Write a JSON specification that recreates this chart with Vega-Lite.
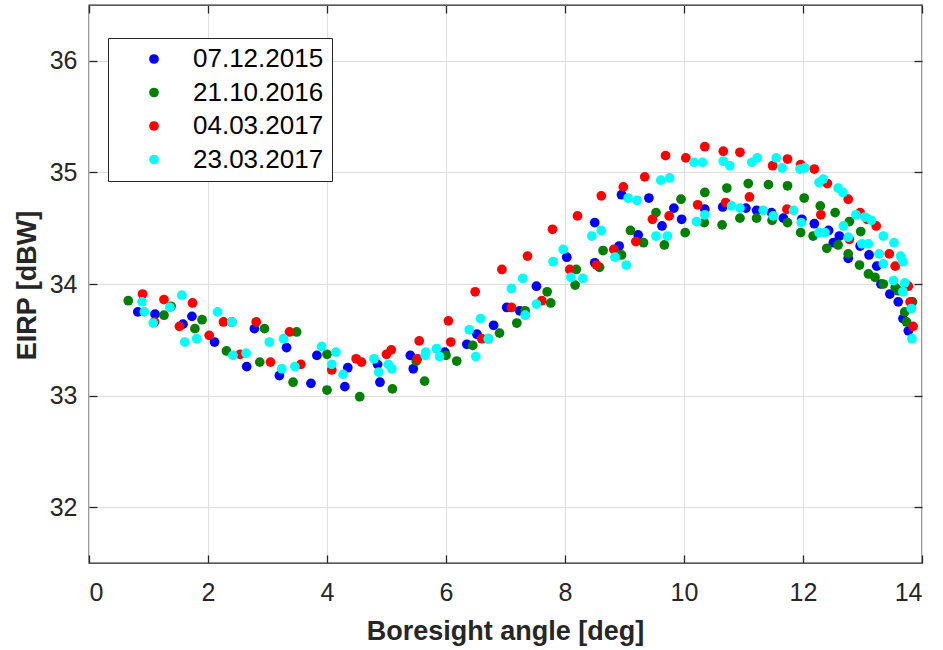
{
  "$schema": "https://vega.github.io/schema/vega-lite/v6.json",
  "width": 833,
  "height": 558,
  "autosize": {"type": "none"},
  "padding": {"left": 89, "top": 5, "right": 21, "bottom": 87},
  "background": "white",
  "config": {
    "font": "Liberation Sans",
    "view": {"stroke": "#262626", "strokeWidth": 1.3}
  },
  "datasets": {
    "pts": [
      {"d":"07.12.2015","a":0.82,"e":33.75},{"d":"07.12.2015","a":1.11,"e":33.73},{"d":"07.12.2015","a":1.73,"e":33.71},{"d":"07.12.2015","a":1.58,"e":33.64},
      {"d":"07.12.2015","a":2.11,"e":33.48},{"d":"07.12.2015","a":2.78,"e":33.60},{"d":"07.12.2015","a":3.32,"e":33.43},{"d":"07.12.2015","a":2.65,"e":33.26},
      {"d":"07.12.2015","a":3.20,"e":33.18},{"d":"07.12.2015","a":3.73,"e":33.11},{"d":"07.12.2015","a":3.83,"e":33.36},{"d":"07.12.2015","a":4.35,"e":33.25},
      {"d":"07.12.2015","a":4.30,"e":33.08},{"d":"07.12.2015","a":4.85,"e":33.28},{"d":"07.12.2015","a":4.89,"e":33.12},{"d":"07.12.2015","a":5.40,"e":33.36},
      {"d":"07.12.2015","a":5.45,"e":33.24},{"d":"07.12.2015","a":5.98,"e":33.39},{"d":"07.12.2015","a":6.35,"e":33.46},{"d":"07.12.2015","a":6.52,"e":33.55},
      {"d":"07.12.2015","a":6.80,"e":33.63},{"d":"07.12.2015","a":7.02,"e":33.79},{"d":"07.12.2015","a":7.24,"e":33.76},{"d":"07.12.2015","a":7.52,"e":33.98},
      {"d":"07.12.2015","a":8.03,"e":34.24},{"d":"07.12.2015","a":8.50,"e":34.55},{"d":"07.12.2015","a":8.50,"e":34.19},{"d":"07.12.2015","a":8.91,"e":34.34},
      {"d":"07.12.2015","a":9.23,"e":34.44},{"d":"07.12.2015","a":8.95,"e":34.80},{"d":"07.12.2015","a":9.41,"e":34.77},{"d":"07.12.2015","a":9.63,"e":34.52},
      {"d":"07.12.2015","a":9.83,"e":34.68},{"d":"07.12.2015","a":9.96,"e":34.58},{"d":"07.12.2015","a":10.35,"e":34.67},{"d":"07.12.2015","a":10.65,"e":34.69},
      {"d":"07.12.2015","a":11.04,"e":34.68},{"d":"07.12.2015","a":11.22,"e":34.66},{"d":"07.12.2015","a":11.47,"e":34.64},{"d":"07.12.2015","a":11.67,"e":34.59},
      {"d":"07.12.2015","a":11.98,"e":34.58},{"d":"07.12.2015","a":12.19,"e":34.54},{"d":"07.12.2015","a":12.43,"e":34.48},{"d":"07.12.2015","a":12.61,"e":34.43},
      {"d":"07.12.2015","a":12.51,"e":34.37},{"d":"07.12.2015","a":12.76,"e":34.23},{"d":"07.12.2015","a":12.96,"e":34.34},{"d":"07.12.2015","a":13.11,"e":34.26},
      {"d":"07.12.2015","a":13.24,"e":34.16},{"d":"07.12.2015","a":13.31,"e":34.00},{"d":"07.12.2015","a":13.46,"e":33.91},{"d":"07.12.2015","a":13.60,"e":33.84},
      {"d":"07.12.2015","a":13.68,"e":33.69},{"d":"07.12.2015","a":13.77,"e":33.58},

      {"d":"21.10.2016","a":0.66,"e":33.85},{"d":"21.10.2016","a":1.26,"e":33.72},{"d":"21.10.2016","a":1.38,"e":33.80},{"d":"21.10.2016","a":1.90,"e":33.68},
      {"d":"21.10.2016","a":1.78,"e":33.60},{"d":"21.10.2016","a":2.40,"e":33.66},{"d":"21.10.2016","a":2.31,"e":33.40},{"d":"21.10.2016","a":2.95,"e":33.60},
      {"d":"21.10.2016","a":2.87,"e":33.30},{"d":"21.10.2016","a":3.49,"e":33.57},{"d":"21.10.2016","a":3.43,"e":33.12},{"d":"21.10.2016","a":4.00,"e":33.37},
      {"d":"21.10.2016","a":4.00,"e":33.05},{"d":"21.10.2016","a":4.55,"e":32.99},{"d":"21.10.2016","a":5.10,"e":33.06},{"d":"21.10.2016","a":5.50,"e":33.31},
      {"d":"21.10.2016","a":5.64,"e":33.13},{"d":"21.10.2016","a":6.00,"e":33.36},{"d":"21.10.2016","a":6.18,"e":33.31},{"d":"21.10.2016","a":6.45,"e":33.45},
      {"d":"21.10.2016","a":6.71,"e":33.51},{"d":"21.10.2016","a":6.90,"e":33.56},{"d":"21.10.2016","a":7.19,"e":33.65},{"d":"21.10.2016","a":7.33,"e":33.76},
      {"d":"21.10.2016","a":7.70,"e":33.93},{"d":"21.10.2016","a":7.76,"e":33.83},{"d":"21.10.2016","a":8.19,"e":34.13},{"d":"21.10.2016","a":8.17,"e":33.99},
      {"d":"21.10.2016","a":8.58,"e":34.15},{"d":"21.10.2016","a":8.64,"e":34.30},{"d":"21.10.2016","a":8.95,"e":34.26},{"d":"21.10.2016","a":9.10,"e":34.48},
      {"d":"21.10.2016","a":9.32,"e":34.37},{"d":"21.10.2016","a":9.53,"e":34.64},{"d":"21.10.2016","a":9.67,"e":34.35},{"d":"21.10.2016","a":9.95,"e":34.76},
      {"d":"21.10.2016","a":10.02,"e":34.46},{"d":"21.10.2016","a":10.35,"e":34.82},{"d":"21.10.2016","a":10.34,"e":34.55},{"d":"21.10.2016","a":10.72,"e":34.86},
      {"d":"21.10.2016","a":10.64,"e":34.53},{"d":"21.10.2016","a":11.08,"e":34.90},{"d":"21.10.2016","a":10.94,"e":34.59},{"d":"21.10.2016","a":11.22,"e":34.59},
      {"d":"21.10.2016","a":11.42,"e":34.89},{"d":"21.10.2016","a":11.48,"e":34.57},{"d":"21.10.2016","a":11.74,"e":34.88},{"d":"21.10.2016","a":11.74,"e":34.55},
      {"d":"21.10.2016","a":11.96,"e":34.46},{"d":"21.10.2016","a":12.02,"e":34.77},{"d":"21.10.2016","a":12.17,"e":34.43},{"d":"21.10.2016","a":12.29,"e":34.70},
      {"d":"21.10.2016","a":12.40,"e":34.32},{"d":"21.10.2016","a":12.54,"e":34.64},{"d":"21.10.2016","a":12.59,"e":34.35},{"d":"21.10.2016","a":12.78,"e":34.56},
      {"d":"21.10.2016","a":12.76,"e":34.27},{"d":"21.10.2016","a":12.97,"e":34.47},{"d":"21.10.2016","a":12.95,"e":34.17},{"d":"21.10.2016","a":13.10,"e":34.09},
      {"d":"21.10.2016","a":13.21,"e":34.06},{"d":"21.10.2016","a":13.35,"e":34.00},{"d":"21.10.2016","a":13.55,"e":33.97},{"d":"21.10.2016","a":13.60,"e":33.94},
      {"d":"21.10.2016","a":13.84,"e":33.84},{"d":"21.10.2016","a":13.71,"e":33.75},{"d":"21.10.2016","a":13.74,"e":33.66},

      {"d":"04.03.2017","a":0.90,"e":33.91},{"d":"04.03.2017","a":1.26,"e":33.86},{"d":"04.03.2017","a":1.74,"e":33.83},{"d":"04.03.2017","a":1.52,"e":33.62},
      {"d":"04.03.2017","a":1.10,"e":33.66},{"d":"04.03.2017","a":2.02,"e":33.54},{"d":"04.03.2017","a":2.26,"e":33.66},{"d":"04.03.2017","a":2.81,"e":33.66},
      {"d":"04.03.2017","a":3.37,"e":33.57},{"d":"04.03.2017","a":2.54,"e":33.37},{"d":"04.03.2017","a":3.05,"e":33.30},{"d":"04.03.2017","a":3.56,"e":33.28},
      {"d":"04.03.2017","a":4.08,"e":33.23},{"d":"04.03.2017","a":4.49,"e":33.33},{"d":"04.03.2017","a":4.58,"e":33.30},{"d":"04.03.2017","a":5.00,"e":33.37},
      {"d":"04.03.2017","a":5.08,"e":33.41},{"d":"04.03.2017","a":5.55,"e":33.49},{"d":"04.03.2017","a":5.52,"e":33.33},{"d":"04.03.2017","a":6.04,"e":33.67},
      {"d":"04.03.2017","a":6.08,"e":33.48},{"d":"04.03.2017","a":6.60,"e":33.51},{"d":"04.03.2017","a":6.49,"e":33.93},{"d":"04.03.2017","a":6.94,"e":34.13},
      {"d":"04.03.2017","a":7.10,"e":33.79},{"d":"04.03.2017","a":7.37,"e":34.25},{"d":"04.03.2017","a":7.61,"e":33.85},{"d":"04.03.2017","a":7.79,"e":34.49},
      {"d":"04.03.2017","a":8.08,"e":34.13},{"d":"04.03.2017","a":8.21,"e":34.61},{"d":"04.03.2017","a":8.53,"e":34.17},{"d":"04.03.2017","a":8.61,"e":34.79},
      {"d":"04.03.2017","a":8.82,"e":34.31},{"d":"04.03.2017","a":8.98,"e":34.87},{"d":"04.03.2017","a":9.19,"e":34.38},{"d":"04.03.2017","a":9.34,"e":34.96},
      {"d":"04.03.2017","a":9.47,"e":34.58},{"d":"04.03.2017","a":9.69,"e":35.15},{"d":"04.03.2017","a":9.75,"e":34.61},{"d":"04.03.2017","a":10.03,"e":35.13},
      {"d":"04.03.2017","a":10.23,"e":34.71},{"d":"04.03.2017","a":10.35,"e":35.23},{"d":"04.03.2017","a":10.66,"e":35.19},{"d":"04.03.2017","a":10.70,"e":34.73},
      {"d":"04.03.2017","a":10.94,"e":35.18},{"d":"04.03.2017","a":11.10,"e":34.78},{"d":"04.03.2017","a":11.49,"e":35.06},{"d":"04.03.2017","a":11.74,"e":35.12},
      {"d":"04.03.2017","a":11.73,"e":34.67},{"d":"04.03.2017","a":11.96,"e":35.07},{"d":"04.03.2017","a":12.19,"e":35.03},{"d":"04.03.2017","a":12.30,"e":34.62},
      {"d":"04.03.2017","a":12.41,"e":34.90},{"d":"04.03.2017","a":12.76,"e":34.76},{"d":"04.03.2017","a":12.78,"e":34.40},{"d":"04.03.2017","a":12.96,"e":34.64},
      {"d":"04.03.2017","a":13.08,"e":34.58},{"d":"04.03.2017","a":13.23,"e":34.52},{"d":"04.03.2017","a":13.45,"e":34.27},{"d":"04.03.2017","a":13.55,"e":34.16},
      {"d":"04.03.2017","a":13.77,"e":33.98},{"d":"04.03.2017","a":13.80,"e":33.84},{"d":"04.03.2017","a":13.85,"e":33.62},

      {"d":"23.03.2017","a":0.89,"e":33.84},{"d":"23.03.2017","a":0.93,"e":33.75},{"d":"23.03.2017","a":1.08,"e":33.65},{"d":"23.03.2017","a":1.36,"e":33.79},
      {"d":"23.03.2017","a":1.56,"e":33.90},{"d":"23.03.2017","a":1.61,"e":33.48},{"d":"23.03.2017","a":1.81,"e":33.51},{"d":"23.03.2017","a":2.16,"e":33.75},
      {"d":"23.03.2017","a":2.40,"e":33.66},{"d":"23.03.2017","a":2.42,"e":33.36},{"d":"23.03.2017","a":2.64,"e":33.38},{"d":"23.03.2017","a":3.03,"e":33.48},
      {"d":"23.03.2017","a":3.27,"e":33.51},{"d":"23.03.2017","a":3.24,"e":33.24},{"d":"23.03.2017","a":3.46,"e":33.26},{"d":"23.03.2017","a":3.91,"e":33.44},
      {"d":"23.03.2017","a":4.15,"e":33.39},{"d":"23.03.2017","a":4.08,"e":33.28},{"d":"23.03.2017","a":4.27,"e":33.19},{"d":"23.03.2017","a":4.79,"e":33.33},
      {"d":"23.03.2017","a":4.87,"e":33.21},{"d":"23.03.2017","a":5.03,"e":33.28},{"d":"23.03.2017","a":5.09,"e":33.24},{"d":"23.03.2017","a":5.66,"e":33.39},
      {"d":"23.03.2017","a":5.65,"e":33.36},{"d":"23.03.2017","a":5.84,"e":33.42},{"d":"23.03.2017","a":5.89,"e":33.35},{"d":"23.03.2017","a":6.39,"e":33.59},
      {"d":"23.03.2017","a":6.50,"e":33.35},{"d":"23.03.2017","a":6.58,"e":33.69},{"d":"23.03.2017","a":6.71,"e":33.51},{"d":"23.03.2017","a":7.10,"e":33.96},
      {"d":"23.03.2017","a":7.33,"e":33.72},{"d":"23.03.2017","a":7.29,"e":34.05},{"d":"23.03.2017","a":7.52,"e":33.82},{"d":"23.03.2017","a":7.80,"e":34.20},
      {"d":"23.03.2017","a":7.97,"e":34.31},{"d":"23.03.2017","a":8.10,"e":34.06},{"d":"23.03.2017","a":8.30,"e":34.05},{"d":"23.03.2017","a":8.45,"e":34.43},
      {"d":"23.03.2017","a":8.61,"e":34.48},{"d":"23.03.2017","a":8.84,"e":34.24},{"d":"23.03.2017","a":9.03,"e":34.17},{"d":"23.03.2017","a":9.06,"e":34.77},
      {"d":"23.03.2017","a":9.21,"e":34.75},{"d":"23.03.2017","a":9.53,"e":34.43},{"d":"23.03.2017","a":9.72,"e":34.43},{"d":"23.03.2017","a":9.61,"e":34.93},
      {"d":"23.03.2017","a":9.76,"e":34.95},{"d":"23.03.2017","a":10.17,"e":35.09},{"d":"23.03.2017","a":10.31,"e":35.09},{"d":"23.03.2017","a":10.21,"e":34.56},
      {"d":"23.03.2017","a":10.35,"e":34.62},{"d":"23.03.2017","a":10.66,"e":35.10},{"d":"23.03.2017","a":10.77,"e":35.06},{"d":"23.03.2017","a":10.80,"e":34.70},
      {"d":"23.03.2017","a":10.94,"e":34.68},{"d":"23.03.2017","a":11.14,"e":35.09},{"d":"23.03.2017","a":11.23,"e":35.13},{"d":"23.03.2017","a":11.33,"e":34.66},
      {"d":"23.03.2017","a":11.50,"e":34.61},{"d":"23.03.2017","a":11.55,"e":35.13},{"d":"23.03.2017","a":11.65,"e":35.04},{"d":"23.03.2017","a":11.84,"e":34.66},
      {"d":"23.03.2017","a":11.97,"e":34.55},{"d":"23.03.2017","a":11.95,"e":35.03},{"d":"23.03.2017","a":12.03,"e":35.04},{"d":"23.03.2017","a":12.27,"e":34.91},
      {"d":"23.03.2017","a":12.34,"e":34.94},{"d":"23.03.2017","a":12.27,"e":34.46},{"d":"23.03.2017","a":12.37,"e":34.46},{"d":"23.03.2017","a":12.68,"e":34.52},
      {"d":"23.03.2017","a":12.59,"e":34.86},{"d":"23.03.2017","a":12.67,"e":34.82},{"d":"23.03.2017","a":12.76,"e":34.42},{"d":"23.03.2017","a":12.89,"e":34.62},
      {"d":"23.03.2017","a":13.04,"e":34.60},{"d":"23.03.2017","a":13.15,"e":34.57},{"d":"23.03.2017","a":12.99,"e":34.36},{"d":"23.03.2017","a":13.10,"e":34.36},
      {"d":"23.03.2017","a":13.35,"e":34.43},{"d":"23.03.2017","a":13.53,"e":34.37},{"d":"23.03.2017","a":13.28,"e":34.27},{"d":"23.03.2017","a":13.35,"e":34.18},
      {"d":"23.03.2017","a":13.64,"e":34.25},{"d":"23.03.2017","a":13.68,"e":34.20},{"d":"23.03.2017","a":13.52,"e":34.03},{"d":"23.03.2017","a":13.71,"e":34.01},
      {"d":"23.03.2017","a":13.68,"e":33.93},{"d":"23.03.2017","a":13.82,"e":33.78},{"d":"23.03.2017","a":13.83,"e":33.51}
    ]
  },
  "data": {"name": "pts"},
  "resolve": {"axis": {"x": "independent", "y": "independent"}},
  "layer": [
    {
      "mark": {"type": "point", "filled": true, "opacity": 1, "size": 95, "shape": "circle"},
      "encoding": {
        "x": {
          "field": "a", "type": "quantitative",
          "scale": {"domain": [0, 14], "nice": false, "zero": false},
          "axis": {
            "values": [0, 2, 4, 6, 8, 10, 12, 14],
            "title": "Boresight angle [deg]",
            "grid": true, "gridColor": "#dedede", "gridWidth": 1,
            "domain": false,
            "ticks": true, "tickSize": -8, "tickColor": "#262626", "tickWidth": 1.3,
            "labelFontSize": 25, "labelColor": "#262626", "labelPadding": 25,
            "labelFont": "Liberation Sans",
            "titleFontSize": 27, "titleFontWeight": "bold", "titleColor": "#262626",
            "titleFont": "Liberation Sans",
            "titleX": 416, "titleY": 76, "titleBaseline": "alphabetic", "titleAlign": "center"
          }
        },
        "y": {
          "field": "e", "type": "quantitative",
          "scale": {"domain": [31.5, 36.5], "nice": false, "zero": false},
          "axis": {
            "values": [32, 33, 34, 35, 36],
            "title": "EIRP [dBW]",
            "grid": true, "gridColor": "#dedede", "gridWidth": 1,
            "domain": false,
            "ticks": true, "tickSize": -8, "tickColor": "#262626", "tickWidth": 1.3,
            "labelFontSize": 25, "labelColor": "#262626", "labelPadding": 20,
            "labelFont": "Liberation Sans",
            "titleFontSize": 27, "titleFontWeight": "bold", "titleColor": "#262626",
            "titleFont": "Liberation Sans",
            "titleX": -62, "titleY": 280, "titleAngle": 270, "titleBaseline": "middle", "titleAlign": "center"
          }
        },
        "color": {
          "field": "d", "type": "nominal",
          "scale": {
            "domain": ["07.12.2015", "21.10.2016", "04.03.2017", "23.03.2017"],
            "range": ["#0000ff", "#007f00", "#ff0000", "#00ffff"]
          },
          "sort": null,
          "legend": {
            "title": null,
            "orient": "none",
            "legendX": 19,
            "legendY": 33,
            "fillColor": "white",
            "strokeColor": "#262626",
            "padding": 8,
            "labelFontSize": 26,
            "labelFont": "Liberation Sans",
            "labelColor": "#000000",
            "symbolType": "circle",
            "symbolSize": 95,
            "symbolOffset": 25,
            "labelOffset": 26,
            "rowPadding": 7.5
          }
        }
      }
    },
    {
      "mark": {"type": "point", "opacity": 0},
      "encoding": {
        "x": {
          "field": "a", "type": "quantitative",
          "scale": {"domain": [0, 14], "nice": false, "zero": false},
          "axis": {
            "orient": "top", "values": [0, 2, 4, 6, 8, 10, 12, 14],
            "title": null, "labels": false, "grid": false, "domain": false,
            "ticks": true, "tickSize": -8, "tickColor": "#262626", "tickWidth": 1.3
          }
        },
        "y": {
          "field": "e", "type": "quantitative",
          "scale": {"domain": [31.5, 36.5], "nice": false, "zero": false},
          "axis": {
            "orient": "right", "values": [32, 33, 34, 35, 36],
            "title": null, "labels": false, "grid": false, "domain": false,
            "ticks": true, "tickSize": -8, "tickColor": "#262626", "tickWidth": 1.3
          }
        }
      }
    }
  ]
}
